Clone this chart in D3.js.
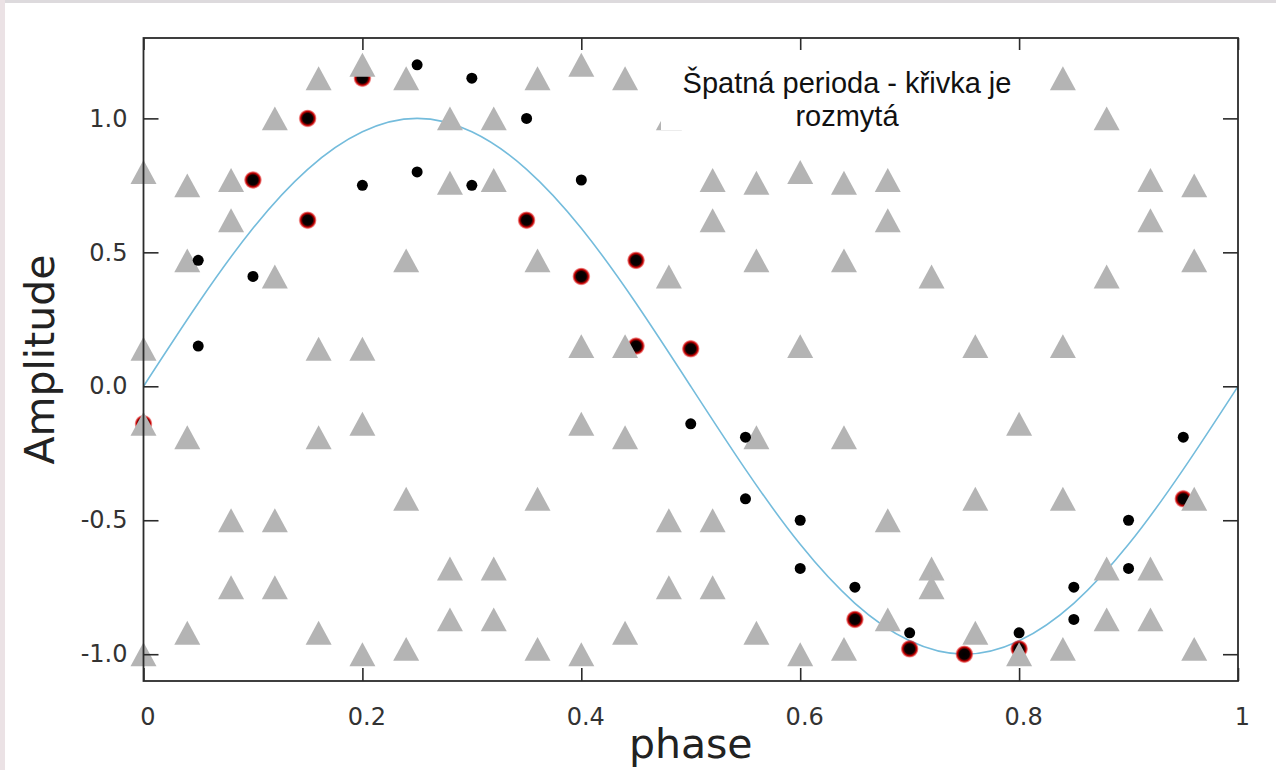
<!DOCTYPE html>
<html>
<head>
    <meta charset="utf-8">
    <style>
        html, body {
            margin: 0;
            padding: 0;
            background: #ffffff;
        }

        svg {
            display: block;
        }

        .tick-label {
            font-family: "DejaVu Sans", sans-serif;
            font-size: 24px;
            fill: #333333;
        }

        .axis-title {
            font-family: "DejaVu Sans", sans-serif;
            font-size: 41px;
            fill: #222222;
        }

        .note {
            font-family: "Liberation Sans", Arial, sans-serif;
            font-size: 29px;
            fill: #111111;
        }
    </style>
</head>
<body>
<div id="chart"></div>

<script src="https://cdn.jsdelivr.net/npm/d3@7/dist/d3.min.js"></script>
<script>
    "use strict";

    const WIDTH = 1276;
    const HEIGHT = 770;
    const PLOT_LEFT = 143.5;
    const PLOT_RIGHT = 1238;
    const PLOT_TOP = 38;
    const PLOT_BOTTOM = 681;

    // tick labels
    const xTicks = [0, 0.2, 0.4, 0.6, 0.8, 1];
    const xTickLabels = ["0", "0.2", "0.4", "0.6", "0.8", "1"];
    const yTicks = [-1.0, -0.5, 0.0, 0.5, 1.0];
    const yTickLabels = ["-1.0", "-0.5", "0.0", "0.5", "1.0"];

    // fitted curve (every 0.05 of phase)
    const curvePhase = [0, 0.05, 0.1, 0.15, 0.2, 0.25, 0.3, 0.35, 0.4, 0.45, 0.5,
        0.55, 0.6, 0.65, 0.7, 0.75, 0.8, 0.85, 0.9, 0.95, 1.0];
    const curveAmp = [0, 0.31, 0.59, 0.81, 0.95, 1.0, 0.95, 0.81, 0.59, 0.31, 0,
        -0.31, -0.59, -0.81, -0.95, -1.0, -0.95, -0.81, -0.59, -0.31, 0];

    // small black points
    const blackPhase = [0.05, 0.05, 0.10, 0.20, 0.25, 0.25, 0.30, 0.30, 0.35, 0.40, 0.50,
        0.55, 0.55, 0.60, 0.60, 0.65, 0.70, 0.80, 0.85, 0.85, 0.90, 0.90, 0.95];
    const blackAmp = [0.47, 0.15, 0.41, 0.75, 1.20, 0.80, 1.15, 0.75, 1.00, 0.77, -0.14,
        -0.19, -0.42, -0.50, -0.68, -0.75, -0.92, -0.92, -0.75, -0.87, -0.50, -0.68, -0.19];

    // red ringed points
    const redPhase = [0.00, 0.10, 0.15, 0.15, 0.20, 0.35, 0.40, 0.45, 0.45, 0.50,
        0.65, 0.70, 0.75, 0.80, 0.95];
    const redAmp = [-0.14, 0.77, 1.00, 0.62, 1.15, 0.62, 0.41, 0.47, 0.15, 0.14,
        -0.87, -0.98, -1.00, -0.98, -0.42];

    // grey triangles
    const triPhase = [
        0.00, 0.00, 0.00, 0.00,
        0.04, 0.04, 0.04, 0.04,
        0.08, 0.08, 0.08, 0.08,
        0.12, 0.12, 0.12, 0.12,
        0.16, 0.16, 0.16, 0.16,
        0.20, 0.20, 0.20, 0.20,
        0.24, 0.24, 0.24, 0.24,
        0.28, 0.28, 0.28, 0.28,
        0.32, 0.32, 0.32, 0.32,
        0.36, 0.36, 0.36, 0.36,
        0.40, 0.40, 0.40, 0.40,
        0.44, 0.44, 0.44, 0.44,
        0.48, 0.48, 0.48, 0.48,
        0.52, 0.52, 0.52, 0.52,
        0.56, 0.56, 0.56, 0.56,
        0.60, 0.60, 0.60,
        0.64, 0.64, 0.64, 0.64,
        0.68, 0.68, 0.68, 0.68,
        0.72, 0.72, 0.72,
        0.76, 0.76, 0.76,
        0.80, 0.80,
        0.84, 0.84, 0.84, 0.84,
        0.88, 0.88, 0.88, 0.88,
        0.92, 0.92, 0.92, 0.92,
        0.96, 0.96, 0.96, 0.96];
    const triAmp = [
        0.80, 0.14, -0.14, -1.00,
        0.75, 0.47, -0.19, -0.92,
        0.77, 0.62, -0.50, -0.75,
        1.00, 0.41, -0.50, -0.75,
        1.15, 0.14, -0.19, -0.92,
        1.20, 0.14, -0.14, -1.00,
        1.15, 0.47, -0.42, -0.98,
        1.00, 0.76, -0.68, -0.87,
        1.00, 0.77, -0.68, -0.87,
        1.15, 0.47, -0.42, -0.98,
        1.20, 0.15, -0.14, -1.00,
        1.15, 0.15, -0.19, -0.92,
        1.00, 0.41, -0.50, -0.75,
        0.77, 0.62, -0.50, -0.75,
        0.76, 0.47, -0.19, -0.92,
        0.80, 0.15, -1.00,
        0.76, 0.47, -0.19, -0.98,
        0.77, 0.62, -0.50, -0.87,
        0.41, -0.68, -0.75,
        0.15, -0.42, -0.92,
        -0.14, -1.00,
        1.15, 0.15, -0.42, -0.98,
        1.00, 0.41, -0.68, -0.87,
        0.77, 0.62, -0.68, -0.87,
        0.75, 0.47, -0.42, -0.98];

    const noteLines = ["Špatná perioda - křivka je", "rozmytá"];

    // matplotlib style "^" marker: centred on its bounding box
    const triangleUp = {
        draw: function (context, size) {
            const w = Math.sqrt(size);
            const h = w * 0.92;
            context.moveTo(0, -h / 2);
            context.lineTo(w / 2, h / 2);
            context.lineTo(-w / 2, h / 2);
            context.closePath();
        }
    };

    function zipPoints(xs, ys) {
        return xs.map(function (d, i) {
            return {x: d, y: ys[i]};
        });
    }

    const svg = d3.select("#chart").append("svg")
        .attr("width", WIDTH)
        .attr("height", HEIGHT);

    // faint slide border of the screenshot
    svg.append("rect")
        .attr("x", 0).attr("y", 0)
        .attr("width", WIDTH).attr("height", HEIGHT)
        .attr("fill", "#ffffff");
    svg.append("rect")
        .attr("x", 0).attr("y", 0)
        .attr("width", WIDTH).attr("height", 3)
        .attr("fill", "#dddadd");
    svg.append("rect")
        .attr("x", 0).attr("y", 0)
        .attr("width", 5).attr("height", HEIGHT)
        .attr("fill", "#ebe2e5");

    const defs = svg.append("defs");
    const grad = defs.append("radialGradient").attr("id", "red-dot");
    grad.append("stop").attr("offset", "0%").attr("stop-color", "#000000");
    grad.append("stop").attr("offset", "55%").attr("stop-color", "#0a0000");
    grad.append("stop").attr("offset", "78%").attr("stop-color", "#c40000");
    grad.append("stop").attr("offset", "100%").attr("stop-color", "#e00000").attr("stop-opacity", 0.15);

    const x = d3.scaleLinear().domain([0, 1]).range([PLOT_LEFT, PLOT_RIGHT]);
    const y = d3.scaleLinear().domain([-1.1, 1.3]).range([PLOT_BOTTOM, PLOT_TOP]);

    // curve
    const line = d3.line()
        .x(function (d) { return x(d.x); })
        .y(function (d) { return y(d.y); })
        .curve(d3.curveNatural);

    svg.append("path")
        .datum(zipPoints(curvePhase, curveAmp))
        .attr("d", line)
        .attr("fill", "none")
        .attr("stroke", "#74bcdc")
        .attr("stroke-width", 1.6);

    // red ringed points
    svg.append("g").selectAll("circle")
        .data(zipPoints(redPhase, redAmp))
        .enter()
        .append("circle")
        .attr("cx", function (d) { return x(d.x); })
        .attr("cy", function (d) { return y(d.y); })
        .attr("r", 9)
        .attr("fill", "url(#red-dot)");

    // triangles
    const tri = d3.symbol().type(triangleUp).size(26 * 26);
    svg.append("g").selectAll("path")
        .data(zipPoints(triPhase, triAmp))
        .enter()
        .append("path")
        .attr("d", tri)
        .attr("transform", function (d) {
            return "translate(" + x(d.x) + "," + y(d.y) + ")";
        })
        .attr("fill", "#b4b4b4");

    // black points
    svg.append("g").selectAll("circle")
        .data(zipPoints(blackPhase, blackAmp))
        .enter()
        .append("circle")
        .attr("cx", function (d) { return x(d.x); })
        .attr("cy", function (d) { return y(d.y); })
        .attr("r", 5.5)
        .attr("fill", "#000000");

    // axes, ticks pointing inward
    function styleAxis(g) {
        g.select(".domain").remove();
        g.selectAll(".tick line")
            .attr("stroke", "#2b2b2b")
            .attr("stroke-width", 1.6);
        g.selectAll(".tick text")
            .attr("class", "tick-label")
            .attr("fill", null);
    }

    svg.append("g")
        .attr("transform", "translate(0," + PLOT_BOTTOM + ")")
        .call(d3.axisBottom(x)
            .tickValues(xTicks)
            .tickSize(-13)
            .tickPadding(27)
            .tickFormat(function (d, i) { return xTickLabels[i]; }))
        .call(styleAxis)
        .selectAll("text").attr("dx", 4);

    svg.append("g")
        .attr("transform", "translate(0," + PLOT_TOP + ")")
        .call(d3.axisTop(x)
            .tickValues(xTicks)
            .tickSize(-12)
            .tickFormat(""))
        .call(styleAxis);

    svg.append("g")
        .attr("transform", "translate(" + PLOT_LEFT + ",0)")
        .call(d3.axisLeft(y)
            .tickValues(yTicks)
            .tickSize(-15)
            .tickPadding(16)
            .tickFormat(function (d, i) { return yTickLabels[i]; }))
        .call(styleAxis);

    svg.append("g")
        .attr("transform", "translate(" + PLOT_RIGHT + ",0)")
        .call(d3.axisRight(y)
            .tickValues(yTicks)
            .tickSize(-15)
            .tickFormat(""))
        .call(styleAxis);

    // frame
    svg.append("rect")
        .attr("x", PLOT_LEFT)
        .attr("y", PLOT_TOP)
        .attr("width", PLOT_RIGHT - PLOT_LEFT)
        .attr("height", PLOT_BOTTOM - PLOT_TOP)
        .attr("fill", "none")
        .attr("stroke", "#2b2b2b")
        .attr("stroke-width", 1.8);

    // axis titles
    svg.append("text")
        .attr("class", "axis-title")
        .attr("x", (PLOT_LEFT + PLOT_RIGHT) / 2)
        .attr("y", 758)
        .attr("text-anchor", "middle")
        .text("phase");

    svg.append("text")
        .attr("class", "axis-title")
        .attr("transform", "translate(54," + ((PLOT_TOP + PLOT_BOTTOM) / 2) + ") rotate(-90)")
        .attr("text-anchor", "middle")
        .text("Amplitude");

    // note pasted over the plot on a white box
    svg.append("rect")
        .attr("x", 661)
        .attr("y", 50)
        .attr("width", 378)
        .attr("height", 80)
        .attr("fill", "#ffffff");

    svg.append("text")
        .attr("class", "note")
        .attr("text-anchor", "middle")
        .selectAll("tspan")
        .data(noteLines)
        .enter()
        .append("tspan")
        .attr("x", 847)
        .attr("y", function (d, i) { return 93 + i * 33; })
        .text(function (d) { return d; });
</script>
</body>
</html>
